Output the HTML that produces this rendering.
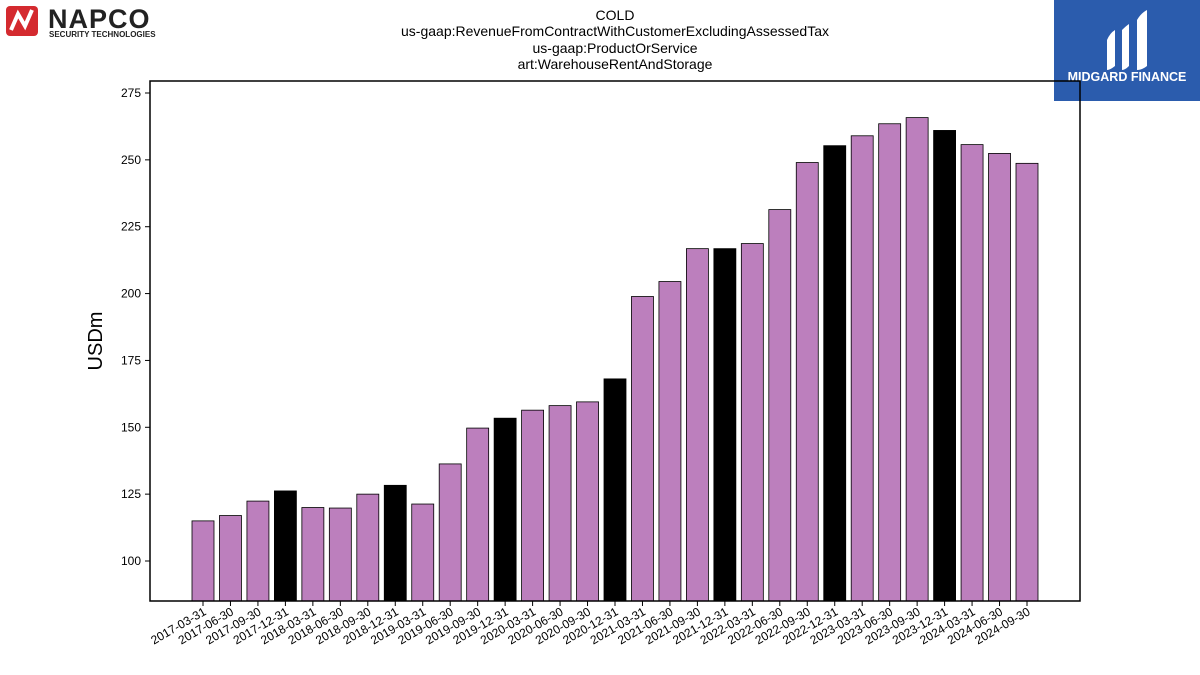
<!DOCTYPE html>
<html><head><meta charset="utf-8"><style>
body{margin:0;background:#fff;width:1200px;height:675px;overflow:hidden;font-family:"Liberation Sans","DejaVu Sans",sans-serif}
svg{position:absolute;left:0;top:0}
</style></head><body>
<svg width="1200" height="675" viewBox="0 0 1200 675" xmlns="http://www.w3.org/2000/svg">
<g>
<rect x="6" y="6" width="32" height="30" rx="4" fill="#d42a2f"/>
<path d="M11 30 L18 14 L25 26 L32 10" stroke="#fff" stroke-width="4" fill="none"/>
<text x="48" y="28" font-size="27" font-weight="bold" fill="#222" letter-spacing="1">NAPCO</text>
<text x="49" y="37" font-size="8" font-weight="bold" fill="#222">SECURITY TECHNOLOGIES</text>
</g>
<g>
<rect x="1054" y="0" width="146" height="101" fill="#2b5cad"/>
<path d="M1107 40 Q1110 33 1115 30 L1115 66 Q1110 70 1107 70Z M1122 30 Q1126 26 1129 24 L1129 66 Q1125 70 1122 70Z M1137 20 Q1141 13 1147 10 L1147 66 Q1142 70 1137 70Z" fill="#fff"/>
<text x="1127" y="81" font-size="12.5" font-weight="bold" fill="#fff" text-anchor="middle">MIDGARD FINANCE</text>
</g>
<g font-size="14" text-anchor="middle" fill="#000">
<text x="615" y="20">COLD</text>
<text x="615" y="36">us-gaap:RevenueFromContractWithCustomerExcludingAssessedTax</text>
<text x="615" y="53">us-gaap:ProductOrService</text>
<text x="615" y="69">art:WarehouseRentAndStorage</text>
</g>
<text transform="translate(102,341) rotate(-90)" font-size="20" text-anchor="middle">USDm</text>
<g id="plot"></g>
<rect x="150" y="81" width="930" height="520" fill="none" stroke="#000" stroke-width="1.5"/>
</svg>
<script>
const categories=["2017-03-31","2017-06-30","2017-09-30","2017-12-31","2018-03-31","2018-06-30","2018-09-30","2018-12-31","2019-03-31","2019-06-30","2019-09-30","2019-12-31","2020-03-31","2020-06-30","2020-09-30","2020-12-31","2021-03-31","2021-06-30","2021-09-30","2021-12-31","2022-03-31","2022-06-30","2022-09-30","2022-12-31","2023-03-31","2023-06-30","2023-09-30","2023-12-31","2024-03-31","2024-06-30","2024-09-30"];
const values=[115,117,122.4,126.2,120,119.8,125,128.3,121.3,136.3,149.7,153.4,156.4,158.1,159.5,168.1,198.9,204.5,216.8,216.8,218.7,231.4,249,255.3,259,263.5,265.8,261,255.7,252.4,248.7];
const yTicks=[100,125,150,175,200,225,250,275];
const ns="http://www.w3.org/2000/svg";
const g=document.getElementById('plot');
const y=v=>561-(v-100)*(468/175);
const x=i=>203+i*((1027-203)/30);
const bw=22;
function mk(t,a){const e=document.createElementNS(ns,t);for(const k in a)e.setAttribute(k,a[k]);g.appendChild(e);return e;}
yTicks.forEach(t=>{
const l=mk('line',{x1:145,x2:150,y1:y(t),y2:y(t),stroke:'#000'});


const tx=mk('text',{x:141,y:y(t)+4,'font-size':12,'text-anchor':'end'});
tx.textContent=t;


});
categories.forEach((c,i)=>{
const q4=c.endsWith('12-31');
const r=mk('rect',{x:x(i)-bw/2,y:y(values[i]),width:bw,height:601-y(values[i]),fill:q4?'#000':'#bc7fbd',stroke:'#000','stroke-width':0.8});


const l=mk('line',{x1:x(i),x2:x(i),y1:601,y2:606,stroke:'#000'});


const tx=mk('text',{transform:`translate(${x(i)+4},${614}) rotate(-30)`,'font-size':12,'text-anchor':'end'});
tx.textContent=c;


});
</script>
</body></html>
